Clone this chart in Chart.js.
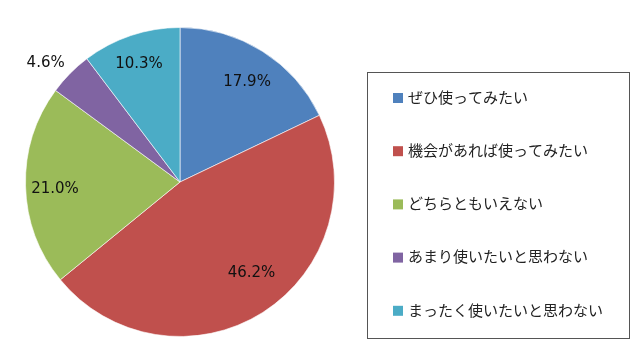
<!DOCTYPE html>
<html>
<head>
<meta charset="utf-8">
<script src="https://cdn.jsdelivr.net/npm/chart.js@4"></script>
<style>
    html, body { margin: 0; padding: 0; background: #fff; }
    #wrap { width: 640px; height: 360px; position: relative; }
</style>
</head>
<body>
<div id="wrap"><canvas id="pie-chart" width="640" height="360"></canvas></div>
<script>
// Data
const labels = ['ぜひ使ってみたい', '機会があれば使ってみたい', 'どちらともいえない', 'あまり使いたいと思わない', 'まったく使いたいと思わない'];
const values = [17.9, 46.2, 21.0, 4.6, 10.3];
const colors = ['#4F81BD', '#C0504D', '#9BBB59', '#8064A2', '#4BACC6'];

// Label placement tweaks (fraction of radius, angle shift in degrees)
const labelRadius = [0.78, 0.75, 0.81, 1.16, 0.81];
const labelShift = [1.6, -5.7, -1.7, -3.2, -0.6];

// Draw percentage labels on the slices
const sliceLabels = {
    id: 'sliceLabels',
    afterDatasetsDraw(chart) {
        const ctx = chart.ctx;
        const meta = chart.getDatasetMeta(0);
        ctx.save();
        ctx.font = '15px "DejaVu Sans"';
        ctx.fillStyle = '#111';
        ctx.textAlign = 'center';
        ctx.textBaseline = 'middle';
        meta.data.forEach((arc, i) => {
            const p = arc.getProps(['x', 'y', 'startAngle', 'endAngle', 'outerRadius'], true);
            const a = (p.startAngle + p.endAngle) / 2 + labelShift[i] * Math.PI / 180;
            const r = p.outerRadius * labelRadius[i];
            ctx.fillText(values[i].toFixed(1) + '%', p.x + Math.cos(a) * r, p.y + Math.sin(a) * r);
        });
        ctx.restore();
    }
};

// Boxed legend on the right
const boxLegend = {
    id: 'boxLegend',
    afterDraw(chart) {
        const ctx = chart.ctx;
        ctx.save();
        ctx.strokeStyle = '#555';
        ctx.lineWidth = 1;
        ctx.strokeRect(367.5, 72.5, 262, 266);
        ctx.font = '15px "Noto Sans CJK JP"';
        ctx.textBaseline = 'middle';
        labels.forEach((text, i) => {
            const y = 98 + i * 53.2;
            ctx.fillStyle = colors[i];
            ctx.fillRect(393, y - 5, 10, 10);
            ctx.fillStyle = '#222';
            ctx.fillText(text, 408, y - 1);
        });
        ctx.restore();
    }
};

new Chart(document.getElementById('pie-chart').getContext('2d'), {
    type: 'pie',
    data: {
        labels: labels,
        datasets: [{
            data: values,
            backgroundColor: colors,
            borderColor: 'rgba(255,255,255,0.6)',
            borderWidth: 1
        }]
    },
    options: {
        responsive: false,
        animation: false,
        layout: { padding: { left: 25, top: 27, right: 305, bottom: 23 } },
        plugins: {
            legend: { display: false },
            tooltip: { enabled: false }
        }
    },
    plugins: [sliceLabels, boxLegend]
});
</script>
</body>
</html>
